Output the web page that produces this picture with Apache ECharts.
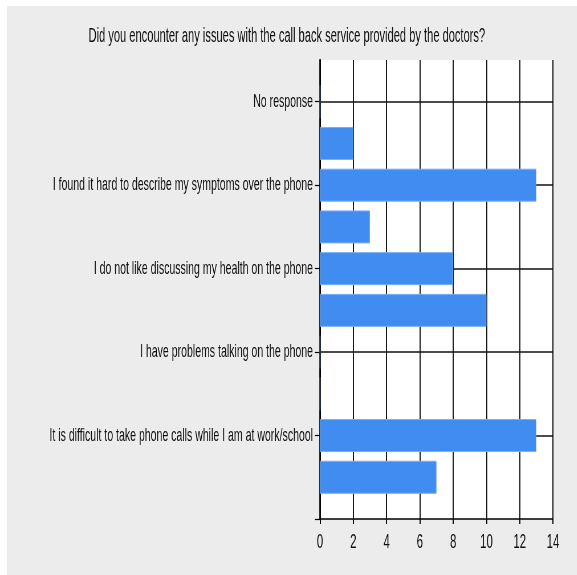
<!DOCTYPE html>
<html>
<head>
<meta charset="utf-8">
<script src="https://cdn.jsdelivr.net/npm/echarts@6/dist/echarts.min.js"></script>
<style>
  html, body { margin: 0; padding: 0; background: #ffffff; overflow: hidden; }
  #frame { position: absolute; left: 0; top: 0; width: 577px; height: 575px; overflow: hidden; }
  #panel { position: absolute; left: 7px; top: 6px; width: 570px; height: 569px; background: #ececec; }
  /* The chart is laid out on a wider canvas and squeezed horizontally,
     which gives the tall, condensed lettering of the survey report. */
  #chart { position: absolute; left: 0; top: 0; height: 575px; transform-origin: 0 0; }
</style>
</head>
<body>
<div id="frame">
  <div id="panel"></div>
  <div id="chart"></div>
</div>
<script>
// Answer options, listed top to bottom as they appear on the chart
const categories = [
  'No response',
  'I found it hard to describe my symptoms over the phone',
  'I do not like discussing my health on the phone',
  'I have problems talking on the phone',
  'It is difficult to take phone calls while I am at work/school'
];
// Bar level with each option's label
const primaryCounts = [0, 13, 8, 0, 13];
// Bar just below each option's label
const secondaryCounts = [2, 3, 10, 0, 7];
const xTicks = [0, 2, 4, 6, 8, 10, 12, 14];

const FONT = '"Liberation Sans", Arial, Helvetica, sans-serif';

// Horizontal squeeze factor and the wider layout width it implies
const SQUEEZE = 0.57;
const WIDTH = 577 / SQUEEZE;
const sx = (px) => px / SQUEEZE;   // screen px -> layout px (horizontal only)

const el = document.getElementById('chart');
el.style.width = WIDTH + 'px';
el.style.transform = 'scaleX(' + SQUEEZE + ')';

// Build the slotted category axis: slot 0 at the bottom axis, then for each
// option (bottom-up) a secondary slot followed by a labelled primary slot, and one empty slot on top.
const slotLabels = [''];
const slotValues = [null];
const labelledSlots = new Set([0]);
for (let j = categories.length - 1; j >= 0; j--) {
  slotLabels.push('');
  slotValues.push(secondaryCounts[j]);
  slotLabels.push(categories[j]);
  slotValues.push(primaryCounts[j]);
  labelledSlots.add(slotLabels.length - 1);
}
slotLabels.push('');
slotValues.push(null);

const chart = echarts.init(el, null, { renderer: 'canvas', width: WIDTH, height: 575 });
chart.setOption({
  backgroundColor: 'transparent',
  animation: false,
  title: {
    text: 'Did you encounter any issues with the call back service provided by the doctors?',
    left: sx(284),
    textAlign: 'center',
    top: 22,
    textStyle: { fontFamily: FONT, fontSize: 19.5, fontWeight: 'normal', color: '#111' }
  },
  grid: {
    left: sx(320), top: 60, right: sx(24), bottom: 56,
    containLabel: false, outerBoundsMode: 'none',
    show: true, backgroundColor: '#ffffff', borderWidth: 0
  },
  xAxis: {
    type: 'value',
    min: xTicks[0],
    max: xTicks[xTicks.length - 1],
    interval: xTicks[1] - xTicks[0],
    axisLine: { show: true, lineStyle: { color: '#000', width: 1.5 } },
    axisTick: { show: true, inside: false, length: 5, lineStyle: { color: '#000', width: sx(1.1) } },
    axisLabel: { margin: 13, fontFamily: FONT, fontSize: 20, color: '#111' },
    splitLine: { show: true, lineStyle: { color: '#111', width: sx(1.1) } }
  },
  yAxis: {
    type: 'category',
    boundaryGap: false,
    data: slotLabels,
    axisLine: { show: true, lineStyle: { color: '#000', width: sx(1.5) } },
    axisTick: {
      show: true, inside: false, length: sx(5),
      interval: (i) => labelledSlots.has(i),
      lineStyle: { color: '#000', width: 1.2 }
    },
    axisLabel: {
      interval: 0, margin: sx(7), fontFamily: FONT, fontSize: 18.5, color: '#111'
    },
    splitLine: {
      show: true,
      interval: (i) => labelledSlots.has(i) && i > 0,
      lineStyle: { color: '#111', width: 1.5 }
    }
  },
  series: [{
    type: 'bar',
    data: slotValues,
    barWidth: 33,
    itemStyle: { color: '#418CF0', borderColor: '#79aef5', borderWidth: 1 },
    z: 3
  }]
});
</script>
</body>
</html>
